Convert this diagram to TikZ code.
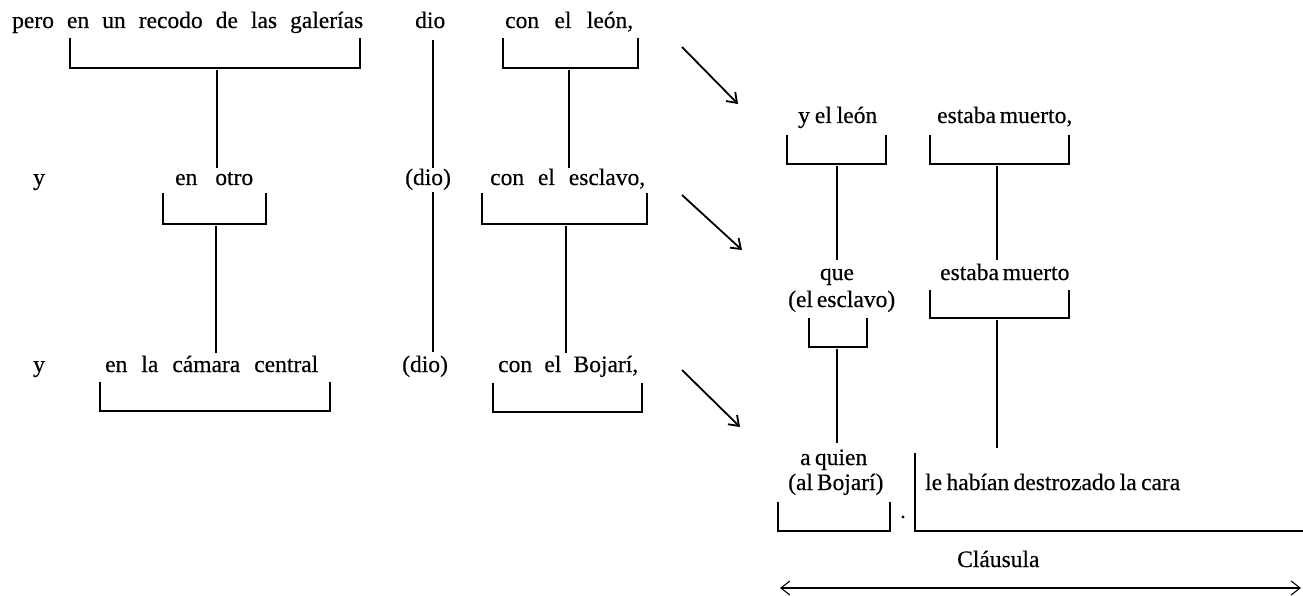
\documentclass[tikz,border=0pt]{standalone}
\usepackage{fontspec}
\setmainfont{Liberation Serif}[FakeBold=0.4]
\usetikzlibrary{arrows.meta}
\newcommand\spr[2]{\makebox[#1pt][s]{#2}}
\begin{document}
\begin{tikzpicture}[x=1pt,y=-1pt,
  txt/.style={inner sep=0pt, anchor=base west, font=\fontsize{23.5}{27}\selectfont},
  ctxt/.style={txt, anchor=base},
  stem/.style={line width=2.4pt},
  brk/.style={line width=2.2pt},
  darr/.style={line width=1.8pt, -{Straight Barb[length=9pt,width=13pt,line width=1.8pt]}},
  span/.style={line width=1.1pt, {Straight Barb[length=9pt,width=14pt]}-{Straight Barb[length=9pt,width=14pt]}},
]
\useasboundingbox (0,0) rectangle (1303,596);
\fill[white] (0,0) rectangle (1303,596);
\newcommand\brkt[4]{\draw[brk] (#1,#3) -- (#1,#4) -- (#2,#4) -- (#2,#3);}

% ---- left column texts
\node[txt] (t1) at (12,28) {\spr{351}{pero en un recodo de las galerías}};
\node[txt] (dio1) at (415,28) {dio};
\node[txt] (leon1) at (505,28) {\spr{128}{con el león,}};
\node[txt] (y2) at (33,185) {y};
\node[txt] (otro) at (175,185) {\spr{78}{en otro}};
\node[txt] (dio2) at (405,185) {(dio)};
\node[txt] (escl) at (490,185) {\spr{155}{con el esclavo,}};
\node[txt] (y3) at (33,372) {y};
\node[txt] (cam) at (105,372) {\spr{213}{en la cámara central}};
\node[txt] (dio3) at (402,372) {(dio)};
\node[txt] (boj) at (498,372) {\spr{140}{con el Bojarí,}};

% ---- right column texts
\node[txt] (yleon) at (798,123) {\spr{79}{y el león}};
\node[txt] (m1) at (937,123) {\spr{126}{estaba muerto,}};
\node[ctxt] (que) at (837,280) {que};
\node[txt] (elesc) at (788,307) {\spr{102}{(el esclavo)}};
\node[txt] (m2) at (940,280) {\spr{118}{estaba muerto}};
\node[txt] (aq) at (800,465) {\spr{67}{a quien}};
\node[txt] (albo) at (788,490) {\spr{90}{(al Bojarí)}};
\node[txt] (cara) at (925,490) {\spr{255}{le habían destrozado la cara}};
\node[txt] (claus) at (957,567) {Cláusula};

% ---- brackets
\brkt{70}{360}{38}{68}
\brkt{503}{638}{38}{68}
\brkt{163}{266}{193}{224}
\brkt{482}{647}{193}{224}
\brkt{100}{330}{382}{411}
\brkt{493}{642}{383}{412}
\brkt{787}{886}{135}{164}
\brkt{930}{1069}{135}{164}
\brkt{930}{1069}{290}{318}
\brkt{809}{867}{318}{347}
\brkt{778}{890}{502}{531}
\draw[brk] (915,453) -- (915,531) -- (1303,531);
\fill (903,517) circle (1.6pt);

% ---- stems (bracket centre to the element below)
\coordinate (s1a) at (217,70);  \coordinate (s1b) at (217,168);
\coordinate (s2a) at (569,70);  \coordinate (s2b) at (569,168);
\coordinate (s3a) at (216,226); \coordinate (s3b) at (216,353);
\coordinate (s4a) at (566,226); \coordinate (s4b) at (566,353);
\coordinate (s5a) at (837,166); \coordinate (s5b) at (837,260);
\coordinate (s6a) at (997,166); \coordinate (s6b) at (997,260);
\coordinate (s7a) at (837,349); \coordinate (s7b) at (837,443);
\coordinate (s8a) at (997,320); \coordinate (s8b) at (997,448);
\draw[stem] (s1a) -- (s1b);
\draw[stem] (s2a) -- (s2b);
\draw[stem] (s3a) -- (s3b);
\draw[stem] (s4a) -- (s4b);
\draw[stem] (s5a) -- (s5b);
\draw[stem] (s6a) -- (s6b);
\draw[stem] (s7a) -- (s7b);
\draw[stem] (s8a) -- (s8b);

% ---- verb line
\coordinate (d1a) at (433,40);  \coordinate (d1b) at (433,168);
\coordinate (d2a) at (433,192); \coordinate (d2b) at (433,352);
\draw[stem] (d1a) -- (d1b);
\draw[stem] (d2a) -- (d2b);

% ---- diagonal arrows
\coordinate (a1a) at (682,47);  \coordinate (a1b) at (738,104);
\coordinate (a2a) at (682,195); \coordinate (a2b) at (742,250);
\coordinate (a3a) at (682,370); \coordinate (a3b) at (740,427);
\draw[darr] (a1a) -- (a1b);
\draw[darr] (a2a) -- (a2b);
\draw[darr] (a3a) -- (a3b);

% ---- span arrow
\coordinate (ca) at (780,588); \coordinate (cb) at (1301,588);
\draw[span] (ca) -- (cb);
\end{tikzpicture}
\end{document}
